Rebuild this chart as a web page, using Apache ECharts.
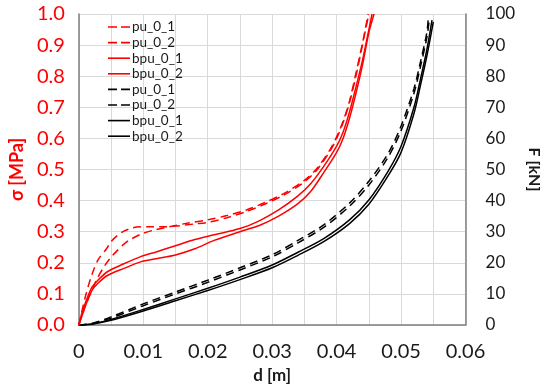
<!DOCTYPE html>
<html><head><meta charset="utf-8">
<script src="https://cdn.jsdelivr.net/npm/echarts@6/dist/echarts.min.js"></script>
<style>html,body{margin:0;padding:0;background:#fff}#c{width:550px;height:391px}</style>
</head><body><div id="c"></div>
<script>
// Stress curves (left axis, MPa) : [d (m), sigma (MPa)]
const pu01_s = [[0,0],[0.001,0.09],[0.002,0.16],[0.003,0.21],[0.0043,0.245],[0.005,0.268],[0.006,0.288],[0.007,0.302],[0.008,0.31],[0.009,0.315],[0.011,0.316],[0.013,0.316],[0.015,0.318],[0.018,0.325],[0.02,0.33],[0.023,0.345],[0.026,0.365],[0.029,0.39],[0.032,0.42],[0.035,0.46],[0.037,0.5],[0.039,0.56],[0.04,0.6],[0.041,0.65],[0.042,0.715],[0.043,0.8],[0.044,0.9],[0.045,1.0]];
const pu02_s = [[0,0],[0.001,0.06],[0.002,0.11],[0.003,0.155],[0.004,0.19],[0.005,0.218],[0.006,0.24],[0.007,0.26],[0.008,0.275],[0.01,0.295],[0.012,0.307],[0.014,0.316],[0.017,0.328],[0.02,0.338],[0.023,0.352],[0.026,0.37],[0.029,0.395],[0.032,0.425],[0.035,0.465],[0.037,0.505],[0.039,0.565],[0.04,0.605],[0.041,0.655],[0.042,0.72],[0.043,0.81],[0.044,0.905],[0.0449,1.0]];
const bpu01_s = [[0,0],[0.0005,0.04],[0.001,0.07],[0.002,0.12],[0.003,0.145],[0.0045,0.172],[0.007,0.197],[0.0096,0.22],[0.012,0.235],[0.015,0.255],[0.018,0.275],[0.021,0.29],[0.025,0.31],[0.028,0.335],[0.031,0.37],[0.034,0.415],[0.036,0.455],[0.038,0.51],[0.04,0.575],[0.041,0.62],[0.042,0.685],[0.043,0.765],[0.044,0.85],[0.045,0.95],[0.0455,1.0]];
const bpu02_s = [[0,0],[0.0005,0.03],[0.001,0.06],[0.002,0.11],[0.003,0.135],[0.0045,0.16],[0.007,0.182],[0.0096,0.203],[0.012,0.213],[0.015,0.225],[0.018,0.245],[0.021,0.272],[0.025,0.3],[0.028,0.32],[0.031,0.35],[0.034,0.39],[0.036,0.43],[0.038,0.49],[0.04,0.555],[0.041,0.6],[0.042,0.665],[0.043,0.745],[0.044,0.835],[0.045,0.94],[0.0458,1.0]];
// Force curves (right axis, kN) : [d (m), F (kN)]
const pu01_f = [[0,0],[0.002,0.5],[0.005,2.6],[0.01,6.8],[0.015,10.6],[0.02,14.4],[0.025,18.4],[0.03,22.6],[0.034,27.2],[0.038,32.2],[0.042,39.2],[0.045,46.2],[0.048,55.2],[0.05,64],[0.052,76],[0.053,84.5],[0.054,94],[0.0542,98]];
const pu02_f = [[0,0],[0.002,0.4],[0.005,2.2],[0.01,6.2],[0.015,10],[0.02,13.7],[0.025,17.7],[0.03,21.9],[0.034,26.4],[0.038,31.4],[0.042,38.2],[0.045,45],[0.048,54],[0.05,62.5],[0.052,74.5],[0.053,83],[0.054,92.5],[0.0544,98.5]];
const bpu01_f = [[0,0],[0.002,0.3],[0.005,1.8],[0.01,5.0],[0.015,8.4],[0.02,11.8],[0.025,15.4],[0.03,19.3],[0.034,23.4],[0.038,27.8],[0.042,33.8],[0.045,40.2],[0.048,49.5],[0.05,57.5],[0.052,70],[0.053,79],[0.054,88.5],[0.0548,98]];
const bpu02_f = [[0,0],[0.002,0.25],[0.005,1.5],[0.01,4.5],[0.015,7.8],[0.02,11.1],[0.025,14.6],[0.03,18.4],[0.034,22.4],[0.038,26.8],[0.042,32.6],[0.045,38.8],[0.048,48],[0.05,55.5],[0.052,68],[0.053,77],[0.054,86.5],[0.055,97.5]];
const names = ['pu_0_1','pu_0_2','bpu_0_1','bpu_0_2'];

const chart = echarts.init(document.getElementById('c'), null, {renderer:'canvas'});
const FONT = 'Lato';
const dash = [8,5];
const ICON_DASH = 'path://M0,0h9v1.6h-9zM13,0h9v1.6h-9z';
const ICON_SOLID = 'path://M0,0h22v1.6h-22z';
function ser(name, data, color, dashed, axis){
  return {name:name, type:'line', data:data, yAxisIndex:axis, symbol:'none', smooth:0.3,
    lineStyle:{color:color, width:1.5, type: dashed ? dash : 'solid'}, itemStyle:{color:color}, z: axis?3:4};
}
const series = [
  ser(names[0], pu01_s, '#ff0000', true, 0),
  ser(names[1], pu02_s, '#ff0000', true, 0),
  ser(names[2], bpu01_s, '#ff0000', false, 0),
  ser(names[3], bpu02_s, '#ff0000', false, 0),
  ser(names[0]+' ', pu01_f, '#000000', true, 1),
  ser(names[1]+' ', pu02_f, '#000000', true, 1),
  ser(names[2]+' ', bpu01_f, '#000000', false, 1),
  ser(names[3]+' ', bpu02_f, '#000000', false, 1)
];
const dashedFlags = [true,true,false,false,true,true,false,false];
chart.setOption({
  animation:false,
  grid:{left:78, right:73, top:14, bottom:66, containLabel:false},
  legend:{orient:'vertical', left:103, top:15, itemWidth:22, itemHeight:8, itemGap:1.6,
    textStyle:{fontFamily:FONT, fontSize:13.5, color:'#1a1a1a', padding:[0,0,0,-3]},
    data: series.map((s,i)=>({name:s.name, icon: dashedFlags[i] ? ICON_DASH : ICON_SOLID}))},
  xAxis:{type:'value', min:0, max:0.06, interval:0.005,
    name:'d [m]', nameLocation:'middle', nameGap:40,
    nameTextStyle:{fontFamily:FONT, fontWeight:'bold', fontSize:17, color:'#1a1a1a'},
    axisLine:{show:true, lineStyle:{color:'#7f7f7f', width:1.5}},
    axisTick:{show:false},
    axisLabel:{fontFamily:FONT, fontSize:20, color:'#1a1a1a', margin:17,
      formatter:function(v){ const k=Math.round(v*1000); if(k%10!==0) return ''; return k===0?'0':(k/1000).toFixed(2);} },
    splitLine:{show:true, lineStyle:{color:'#d9d9d9', width:1}}},
  yAxis:[
    {type:'value', min:0, max:1, interval:0.1, position:'left',
      name:'σ [MPa]', nameLocation:'middle', nameGap:48, nameRotate:90,
      nameTextStyle:{fontFamily:FONT, fontWeight:'bold', fontSize:18, color:'#ff0000'},
      axisLine:{show:true, lineStyle:{color:'#7f7f7f', width:1.5}},
      axisTick:{show:false},
      axisLabel:{fontFamily:FONT, fontSize:20, color:'#ff0000', margin:14, formatter:v=>v.toFixed(1)},
      splitLine:{show:true, lineStyle:{color:'#d9d9d9', width:1}}},
    {type:'value', min:0, max:100, interval:10, position:'right',
      name:'F [kN]', nameLocation:'middle', nameGap:47, nameRotate:-90,
      nameTextStyle:{fontFamily:FONT, fontWeight:'bold', fontSize:16, color:'#1a1a1a'},
      axisLine:{show:true, lineStyle:{color:'#7f7f7f', width:1.5}},
      axisTick:{show:false},
      axisLabel:{fontFamily:FONT, fontSize:17, color:'#1a1a1a', margin:20},
      splitLine:{show:false}}
  ],
  series:series
});
</script></body></html>
